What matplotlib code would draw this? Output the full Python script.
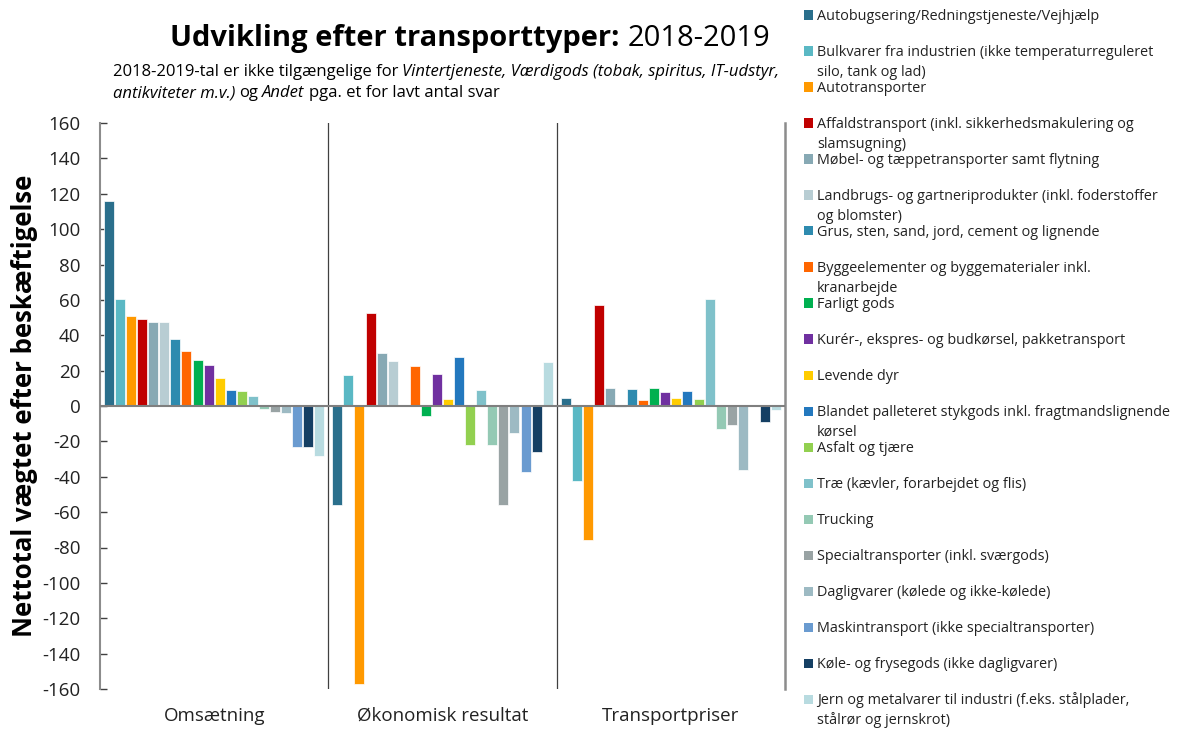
import matplotlib.pyplot as plt
import numpy as np
from matplotlib.patches import Rectangle

plt.rcParams['font.family'] = ['Open Sans', 'DejaVu Sans']
plt.rcParams['axes.unicode_minus'] = False

W, H = 1179, 731

groups = ['Omsætning', 'Økonomisk resultat', 'Transportpriser']

categories = [
    'Autobugsering/Redningstjeneste/Vejhjælp',
    'Bulkvarer fra industrien (ikke temperaturreguleret\nsilo, tank og lad)',
    'Autotransporter',
    'Affaldstransport (inkl. sikkerhedsmakulering og\nslamsugning)',
    'Møbel- og tæppetransporter samt flytning',
    'Landbrugs- og gartneriprodukter (inkl. foderstoffer\nog blomster)',
    'Grus, sten, sand, jord, cement og lignende',
    'Byggeelementer og byggematerialer inkl.\nkranarbejde',
    'Farligt gods',
    'Kurér-, ekspres- og budkørsel, pakketransport',
    'Levende dyr',
    'Blandet palleteret stykgods inkl. fragtmandslignende\nkørsel',
    'Asfalt og tjære',
    'Træ (kævler, forarbejdet og flis)',
    'Trucking',
    'Specialtransporter (inkl. sværgods)',
    'Dagligvarer (kølede og ikke-kølede)',
    'Maskintransport (ikke specialtransporter)',
    'Køle- og frysegods (ikke dagligvarer)',
    'Jern og metalvarer til industri (f.eks. stålplader,\nstålrør og jernskrot)',
]

colors = ['#2a6f8c', '#5ab8c4', '#ff9900', '#c00000', '#87a9b4',
          '#b8cdd3', '#2e8baf', '#ff6600', '#00b050', '#7030a0',
          '#ffcc00', '#2378be', '#92d050', '#7fc1ca', '#94c9b4',
          '#99a3a4', '#9dbac3', '#6a9bd0', '#153f63', '#b8dbe0']

omsaetning = [116, 60.6, 51, 49.3, 47.6, 47.3, 37.7, 31.3, 26.2, 23,
              16, 9, 8.5, 5.8, -1.5, -3.4, -3.8, -23.4, -23.4, -28]
oekonomisk = [-55.7, 17.5, -157.2, 52.7, 29.8, 25.4, 0, 22.8, -5.8, 17.9,
              3.8, 27.5, -21.8, 9, -21.8, -55.7, -15.4, -37.5, -25.8, 24.9]
priser = [4.5, -42.6, -75.5, 56.9, 10.2, -0.7, 9.4, 3.4, 10.2, 8.1,
          4.5, 8.5, 3.8, 60.5, -12.8, -10.9, -36.2, 0, -8.9, -2.3]

values = np.array([omsaetning, oekonomisk, priser])

fig = plt.figure(figsize=(W / 100, H / 100), dpi=100)
ax = fig.add_axes([100 / W, 1 - 689 / H, 685 / W, 566 / H])

pitch = 0.0485
bw = pitch * 0.9
x = np.arange(len(groups))
for i in range(len(categories)):
    ax.bar(x + (i - 9.5) * pitch, values[:, i], width=bw, color=colors[i],
           edgecolor='white', linewidth=0.5, zorder=2)

ax.set_xlim(-0.5, 2.5)
ax.set_ylim(-160, 160)
ax.set_yticks(range(-160, 161, 20))
ax.set_xticks(x, groups)
ax.tick_params(axis='y', direction='in', length=5, width=1, color='#404040',
               labelsize=13.5, labelcolor='#222222', pad=14)
ax.tick_params(axis='x', length=0, labelsize=13.5, labelcolor='#222222', pad=13)

for s in ['top', 'bottom']:
    ax.spines[s].set_visible(False)
ax.spines['left'].set_color('#8c8c8c')
ax.spines['left'].set_linewidth(1.5)
ax.spines['right'].set_color('#8c8c8c')
ax.spines['right'].set_linewidth(1.8)

ax.axhline(0, color='#7f7f7f', lw=1.5, zorder=3)
for xv in [0.5, 1.5]:
    ax.axvline(xv, color='#404040', lw=0.9, zorder=1)

ax.set_ylabel('Nettotal vægtet efter beskæftigelse', fontsize=18.5,
              fontweight='bold', color='black')
ax.yaxis.set_label_coords(-62 / 685, 0.5)


def fx(px):
    return px / W


def fy(py):
    return 1 - py / H


# title with bold and regular part
t1 = fig.text(fx(170), fy(46), 'Udvikling efter transporttyper:', fontsize=21,
              fontweight='bold', va='baseline', ha='left')
ax.annotate('2018-2019', xy=(1, 0), xycoords=t1, xytext=(8, 0),
            textcoords='offset pixels', fontsize=21, va='bottom', ha='left',
            annotation_clip=False)

# subtitle with italic parts
sub_size = 12
s1 = fig.text(fx(113), fy(76), '2018-2019-tal er ikke tilgængelige for', fontsize=sub_size,
              va='baseline', ha='left')
ax.annotate('Vintertjeneste, Værdigods (tobak, spiritus, IT-udstyr,', xy=(1, 0), xycoords=s1,
            xytext=(4, 0), textcoords='offset pixels', fontsize=sub_size, style='italic',
            va='bottom', ha='left', annotation_clip=False)
s2 = fig.text(fx(113), fy(97), 'antikviteter m.v.)', fontsize=sub_size, style='italic',
              va='baseline', ha='left')
s3 = ax.annotate('og', xy=(1, 0), xycoords=s2, xytext=(4, 0), textcoords='offset pixels',
                 fontsize=sub_size, va='bottom', ha='left', annotation_clip=False)
s4 = ax.annotate('Andet', xy=(1, 0), xycoords=s3, xytext=(4, 0), textcoords='offset pixels',
                 fontsize=sub_size, style='italic', va='bottom', ha='left',
                 annotation_clip=False)
ax.annotate('pga. et for lavt antal svar', xy=(1, 0), xycoords=s4, xytext=(4, 0),
            textcoords='offset pixels', fontsize=sub_size, va='bottom', ha='left',
            annotation_clip=False)

# legend drawn by hand: fixed 36 px pitch, wrapped lines overflow
for i, (lab, c) in enumerate(zip(categories, colors)):
    base = 20 + 36 * i
    fig.add_artist(Rectangle((fx(804), fy(base - 0.5)), 9 / W, 9 / H,
                             transform=fig.transFigure, color=c, lw=0))
    for k, line in enumerate(lab.split('\n')):
        fig.text(fx(817), fy(base + 20 * k), line, fontsize=10.4, color='#222222',
                 va='baseline', ha='left')

fig.savefig('out.png', dpi=100)
